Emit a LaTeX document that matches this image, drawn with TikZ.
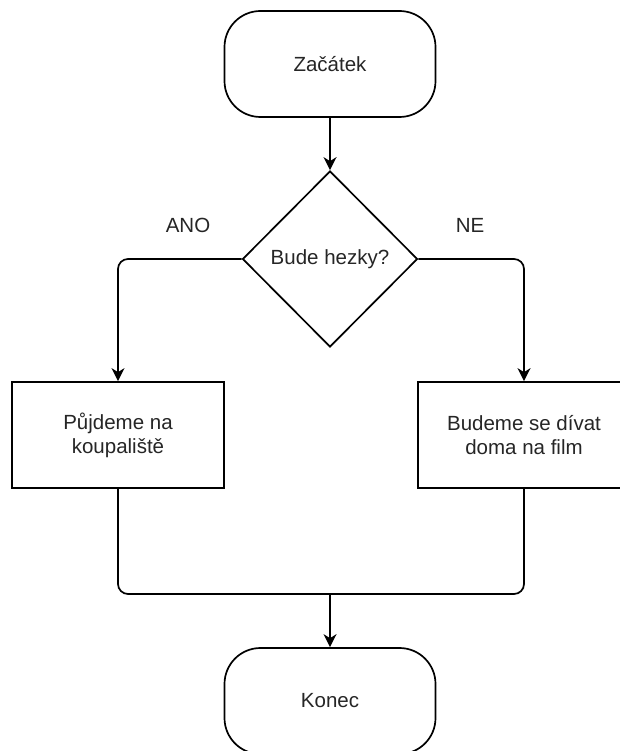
\documentclass[tikz,border=0pt]{standalone}
\usepackage{fontspec}
\setmainfont{Liberation Sans}
\usetikzlibrary{shapes.geometric,arrows.meta}

\tikzset{
  base/.style={draw=black, line width=1.7pt, fill=white, text=black!85,
               font=\fontsize{20.5}{24}\selectfont, align=center, inner sep=0pt},
  terminal/.style={base, rectangle, rounded corners=36pt,
                   minimum width=211pt, minimum height=106pt},
  process/.style={base, rectangle, minimum width=212pt, minimum height=106pt},
  decision/.style={base, diamond, minimum width=175pt, minimum height=176pt},
  flow/.style={line width=1.7pt, rounded corners=10pt},
  arrow/.style={flow, -{Stealth[length=13pt,width=13pt,inset=4pt]}},
  branch/.style={text=black!85, font=\fontsize{20.5}{24}\selectfont}
}

\begin{document}
\begin{tikzpicture}[x=1pt, y=-1pt]
  \useasboundingbox (0,0) rectangle (620,751);

  % flowchart nodes
  \node[terminal] (start) at (330,64)  {Začátek};
  \node[decision] (dec)   at (330,259) {Bude hezky?};
  \node[process]  (yes)   at (118,435) {Půjdeme na\\koupaliště};
  \node[process]  (no)    at (524,435) {Budeme se dívat\\doma na film};
  \node[terminal] (stop)  at (330,701) {Konec};

  % branch labels
  \node[branch] (lyes) at (188,225) {ANO};
  \node[branch] (lno)  at (470,225) {NE};

  % junction where both branches meet
  \coordinate (merge) at (330,594);

  % connectors
  \draw[arrow] (start.south) -- (dec.north);
  \draw[arrow] (dec.west) -| (yes.north);
  \draw[arrow] (dec.east) -| (no.north);
  \draw[flow] (yes.south) |- (merge) -| (no.south);
  \draw[arrow] (merge) -- (stop.north);
\end{tikzpicture}
\end{document}
